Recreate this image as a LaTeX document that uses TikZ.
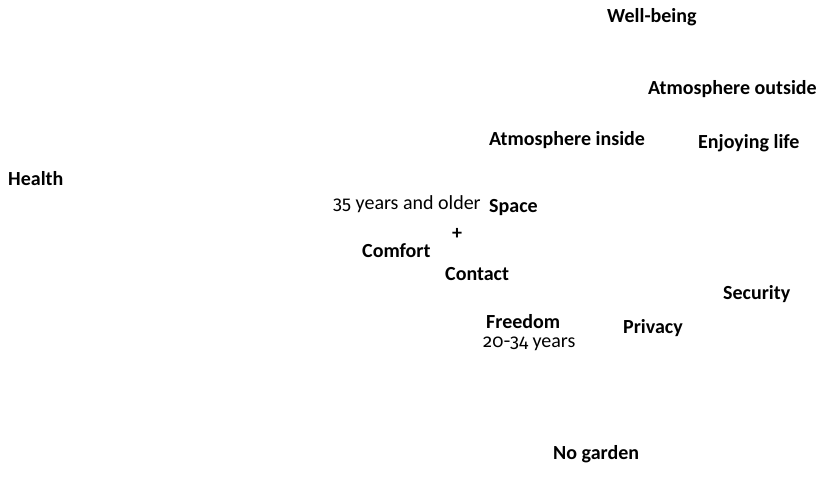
\documentclass[tikz,border=0pt]{standalone}
\usepackage{fontspec}
\setmainfont{Carlito}
\newfontfamily\agefig{Fira Sans}[Numbers=OldStyle,Scale=0.92]
\begin{document}
\begin{tikzpicture}[x=1pt,y=-1pt,
  lbl/.style={anchor=base west,inner sep=0pt,font=\fontsize{20}{24}\selectfont\bfseries},
  note/.style={anchor=base west,inner sep=0pt,font=\fontsize{20}{24}\selectfont}]
\useasboundingbox (0,0) rectangle (824,494);
\node[lbl] (wellbeing) at (607,23) {Well-being};
\node[lbl] (atmout) at (648,95) {Atmosphere outside};
\node[lbl] (atmin) at (489,146) {Atmosphere inside};
\node[lbl] (enjoy) at (698,149) {Enjoying life};
\node[lbl] (health) at (8,186) {Health};
\node[note] (older) at (333,210) {{\agefig 35} years and older};
\node[lbl] (space) at (489,213) {Space};
\node[lbl,anchor=center] (plus) at (457,234) {+};
\node[lbl] (comfort) at (362,258) {Comfort};
\node[lbl] (contact) at (445,280) {Contact};
\node[lbl] (security) at (723,299) {Security};
\node[lbl] (freedom) at (486,328) {Freedom};
\node[note] (younger) at (483,347) {{\agefig 20-34} years};
\node[lbl] (privacy) at (623,333) {Privacy};
\node[lbl] (nogarden) at (553,459) {No garden};
\end{tikzpicture}
\end{document}
